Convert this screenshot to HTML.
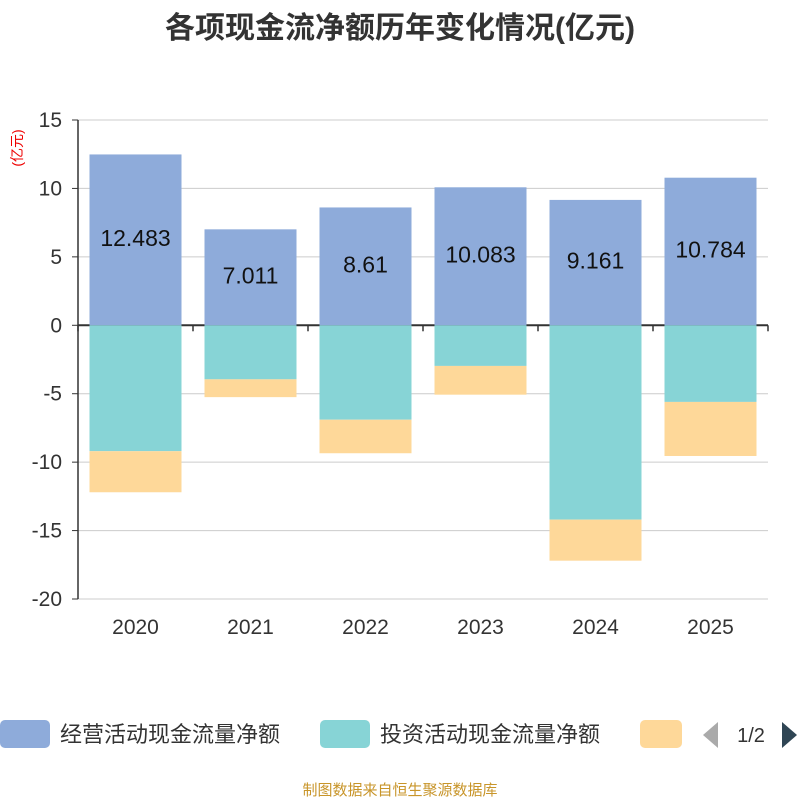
<!DOCTYPE html>
<html><head><meta charset="utf-8"><style>
body{margin:0;background:#fff;font-family:"Liberation Sans","Noto Sans CJK SC",sans-serif}
</style></head><body>
<svg width="800" height="800" xmlns="http://www.w3.org/2000/svg" font-family="Liberation Sans, Noto Sans CJK SC, sans-serif">
<text x="400" y="38" text-anchor="middle" font-size="30" font-weight="bold" fill="#333">各项现金流净额历年变化情况(亿元)</text>
<text transform="translate(22,148) rotate(-90)" text-anchor="middle" font-size="14" fill="#e00">(亿元)</text>
<g id="grid"></g><g id="bars"></g><g id="axes"></g>
<g>
<rect x="0" y="720" width="50" height="28" rx="5" fill="#8eabda"/>
<text x="60" y="742" font-size="22" fill="#333">经营活动现金流量净额</text>
<rect x="320" y="720" width="50" height="28" rx="5" fill="#87d4d6"/>
<text x="380" y="742" font-size="22" fill="#333">投资活动现金流量净额</text>
<rect x="640" y="720" width="42" height="28" rx="5" fill="#fed899"/>
<polygon points="718,722 718,748 703,735" fill="#aaa"/>
<text x="751" y="742" text-anchor="middle" font-size="20" fill="#333">1/2</text>
<polygon points="782,722 782,748 797,735" fill="#2f4554"/>
</g>
<text x="400" y="795" text-anchor="middle" font-size="15" fill="#c8952a">制图数据来自恒生聚源数据库</text>
</svg>
<script>
const categories=["2020","2021","2022","2023","2024","2025"];
const operating=[12.483,7.011,8.61,10.083,9.161,10.784];
const investing=[-9.2,-3.95,-6.9,-2.97,-14.2,-5.6];
const financing=[-3.0,-1.3,-2.45,-2.1,-3.0,-3.95];
const yTicks=[15,10,5,0,-5,-10,-15,-20];
const NS="http://www.w3.org/2000/svg";
const x0=78,x1=768,yTop=120,yBot=599,yMax=15,yMin=-20;
const y=v=>yTop+(yMax-v)/(yMax-yMin)*(yBot-yTop);
const bw=(x1-x0)/categories.length;
const xc=i=>x0+bw*(i+0.5);
function mk(tag,attrs,parent){const e=document.createElementNS(NS,tag);for(const k in attrs)e.setAttribute(k,attrs[k]);document.getElementById(parent).appendChild(e);return e;}
yTicks.forEach(t=>{
 const l=mk('line',{x1:x0,x2:x1,y1:y(t),y2:y(t),stroke:t===0?'#333':'#ccc','stroke-width':t===0?2:1},'grid');
 
 
 const tx=mk('text',{x:62,y:y(t)+7,'text-anchor':'end','font-size':21,fill:'#333'},'axes');
 tx.textContent=t;
 
 
});
categories.forEach((c,i)=>{
 const w=92,bx=xc(i)-w/2;
 const r1=mk('rect',{x:bx,y:y(operating[i]),width:w,height:y(0)-y(operating[i]),fill:'#8eabda'},'bars');
 
 
 const r2=mk('rect',{x:bx,y:y(0),width:w,height:y(investing[i])-y(0),fill:'#87d4d6'},'bars');
 
 
 const r3=mk('rect',{x:bx,y:y(investing[i]),width:w,height:y(investing[i]+financing[i])-y(investing[i]),fill:'#fed899'},'bars');
 
 
 const lb=mk('text',{x:xc(i),y:y(operating[i]/2)+6,'text-anchor':'middle','font-size':23,fill:'#111'},'bars');
 lb.textContent=operating[i];
 
 
 const xt=mk('text',{x:xc(i),y:634,'text-anchor':'middle','font-size':21,fill:'#333'},'axes');
 xt.textContent=c;
 
 
});
for(let i=0;i<=categories.length;i++){
 const tk=mk('line',{x1:x0+bw*i,x2:x0+bw*i,y1:y(0),y2:y(0)+6,stroke:'#333','stroke-width':1.5},'axes');
 
 
}
const ya=mk('line',{x1:x0,x2:x0,y1:yTop,y2:yBot,stroke:'#333','stroke-width':1.5},'axes');


for(const t of yTicks){const k=mk('line',{x1:x0-6,x2:x0,y1:y(t),y2:y(t),stroke:'#333'},'axes');
 
 }
</script>
</body></html>
